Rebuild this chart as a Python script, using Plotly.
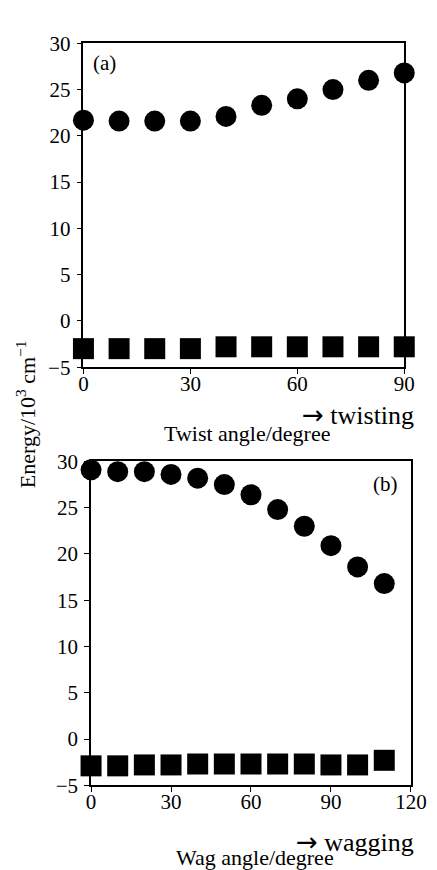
import plotly.graph_objects as go

# ---- data ----
twist_angle = [0, 10, 20, 30, 40, 50, 60, 70, 80, 90]
twist_upper = [21.7, 21.6, 21.6, 21.6, 22.1, 23.3, 24.0, 25.0, 26.0, 26.8]
twist_lower = [-3.0, -3.0, -3.0, -3.0, -2.8, -2.8, -2.8, -2.8, -2.8, -2.8]

wag_angle = [0, 10, 20, 30, 40, 50, 60, 70, 80, 90, 100, 110]
wag_upper = [29.1, 28.9, 28.9, 28.6, 28.2, 27.5, 26.4, 24.8, 23.0, 20.9, 18.6, 16.8]
wag_lower = [-2.9, -2.9, -2.8, -2.8, -2.7, -2.7, -2.7, -2.7, -2.7, -2.8, -2.8, -2.3]

twist_xticks = [0, 30, 60, 90]
wag_xticks = [0, 30, 60, 90, 120]
y_ticks = [-5, 0, 5, 10, 15, 20, 25, 30]

W, H = 437, 870
FONT = "Liberation Serif"

def px_x(p):
    return p / W

def px_y(p):
    return 1 - p / H

fig = go.Figure()

circle = dict(symbol="circle", size=21, color="black", line=dict(width=0))
square = dict(symbol="square", size=21, color="black", line=dict(width=0))

fig.add_trace(go.Scatter(x=twist_angle, y=twist_upper, mode="markers", marker=circle,
                         xaxis="x", yaxis="y", cliponaxis=False, showlegend=False))
fig.add_trace(go.Scatter(x=twist_angle, y=twist_lower, mode="markers", marker=square,
                         xaxis="x", yaxis="y", cliponaxis=False, showlegend=False))
fig.add_trace(go.Scatter(x=wag_angle, y=wag_upper, mode="markers", marker=circle,
                         xaxis="x2", yaxis="y2", cliponaxis=False, showlegend=False))
fig.add_trace(go.Scatter(x=wag_angle, y=wag_lower, mode="markers", marker=square,
                         xaxis="x2", yaxis="y2", cliponaxis=False, showlegend=False))

axis_common = dict(showline=True, linecolor="black", linewidth=1.6, mirror=True,
                   ticks="outside", ticklen=5, tickwidth=1.3, tickcolor="black",
                   showgrid=False, zeroline=False,
                   tickfont=dict(family=FONT, size=21, color="black"))

fig.update_layout(
    width=W, height=H,
    margin=dict(l=0, r=0, t=0, b=0),
    paper_bgcolor="white", plot_bgcolor="white",
    xaxis=dict(domain=[px_x(74), px_x(411)], range=[0, 90], tickvals=twist_xticks,
               anchor="y", ticklabelstandoff=-8, **axis_common),
    yaxis=dict(domain=[px_y(357), px_y(24)], range=[-5, 30], tickvals=y_ticks,
               anchor="x", ticklabelstandoff=2, **axis_common),
    xaxis2=dict(domain=[px_x(82), px_x(418)], range=[0, 120], tickvals=wag_xticks,
                anchor="y2", ticklabelstandoff=-8, **axis_common),
    yaxis2=dict(domain=[px_y(787), px_y(454)], range=[-5, 30], tickvals=y_ticks,
                anchor="x2", ticklabelstandoff=2, **axis_common),
)

def note(text, x, y, size, xanchor="center"):
    fig.add_annotation(text=text, x=px_x(x), y=px_y(y), xref="paper", yref="paper",
                       showarrow=False, xanchor=xanchor, yanchor="middle",
                       font=dict(family=FONT, size=size, color="black"))

ARROW = "<span style='font-family:DejaVu Sans'>\u2192</span>"

note("(a)", 96, 44, 21)
note("(b)", 391, 477, 21)
note(ARROW + " twisting", 423, 406, 26, xanchor="right")
note("Twist angle/degree", 246, 425, 22)
note(ARROW + " wagging", 423, 845, 26, xanchor="right")
note("Wag angle/degree", 254, 861, 22)

fig.add_annotation(text="Energy/10<sup>3</sup> cm<sup>\u22121</sup>", x=px_x(13), y=px_y(405),
                   xref="paper", yref="paper", showarrow=False, textangle=-90,
                   xanchor="center", yanchor="middle",
                   font=dict(family=FONT, size=22, color="black"))

fig.write_html("out.html")
